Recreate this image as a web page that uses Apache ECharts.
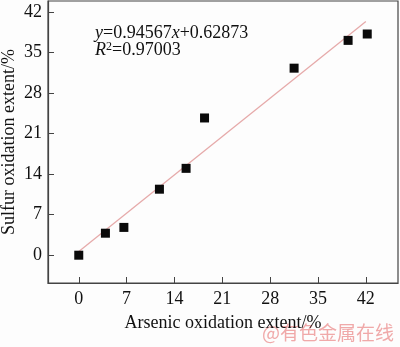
<!DOCTYPE html>
<html><head><meta charset="utf-8">
<script src="https://cdn.jsdelivr.net/npm/echarts@6/dist/echarts.min.js"></script>
<style>html,body{margin:0;padding:0;background:#fdfdfd}#c{width:400px;height:347px}</style>
</head><body><div id="c"></div>
<script>
var arsenic = [0, 3.9, 6.6, 11.8, 15.7, 18.4, 31.5, 39.4, 42.2];
var sulfur  = [0, 3.8, 4.8, 11.4, 15.0, 23.7, 32.3, 37.1, 38.2];
var slope = 0.94567, intercept = 0.62873;
var fitX = [0, 42];
var ticks = [0, 7, 14, 21, 28, 35, 42];
var xName = 'Arsenic oxidation extent/%';
var yName = 'Sulfur oxidation extent/%';
var watermark = '@有色金属在线';

var pts = arsenic.map(function(x, i){ return [x, sulfur[i]]; });
var fit = fitX.map(function(x){ return [x, slope * x + intercept]; });
var font = 'Liberation Serif';
var axisCol = '#444';

var chart = echarts.init(document.getElementById('c'));
chart.setOption({
  backgroundColor: '#fdfdfd',
  animation: false,
  grid: { left: 48, right: 2, top: 1, bottom: 64, containLabel: false, outerBoundsMode: 'none',
          show: true, borderColor: axisCol, borderWidth: 1.2, backgroundColor: 'transparent' },
  xAxis: {
    type: 'value', min: -4.5, max: 46.7,
    axisLine: { show: true, onZero: false, lineStyle: { color: axisCol, width: 1.2 } },
    axisTick: { show: true, inside: true, length: 6, customValues: ticks, lineStyle: { color: axisCol } },
    axisLabel: { customValues: ticks, color: '#111', fontFamily: font, fontSize: 18, margin: 7 },
    splitLine: { show: false },
    name: xName, nameLocation: 'middle', nameGap: 31, nameMoveOverlap: false,
    nameTextStyle: { color: '#111', fontFamily: font, fontSize: 18 }
  },
  yAxis: {
    type: 'value', min: -4.8, max: 43.9,
    axisLine: { show: true, onZero: false, lineStyle: { color: axisCol, width: 1.2 } },
    axisTick: { show: true, inside: true, length: 6, customValues: ticks, lineStyle: { color: axisCol } },
    axisLabel: { customValues: ticks, color: '#111', fontFamily: font, fontSize: 18, margin: 6 },
    splitLine: { show: false },
    name: yName, nameLocation: 'middle', nameGap: 30, nameRotate: 90, nameMoveOverlap: false,
    nameTextStyle: { color: '#111', fontFamily: font, fontSize: 18 }
  },
  series: [
    { type: 'line', data: fit, symbol: 'none', lineStyle: { color: '#e6aaaa', width: 1.3 }, z: 1 },
    { type: 'scatter', data: pts, symbol: 'rect', symbolSize: 9, itemStyle: { color: '#0a0a0a', opacity: 1 }, z: 2 }
  ],
  graphic: [
    { type: 'text', left: 95, top: 24, style: {
      text: '{i|y}=0.94567{i|x}+0.62873', fill: '#111', font: '18px "Liberation Serif"',
      rich: { i: { fontStyle: 'italic', fontFamily: font, fontSize: 18, fill: '#111' } } } },
    { type: 'text', left: 95, top: 41, style: {
      text: '{i|R}{s|2}=0.97003', fill: '#111', font: '18px "Liberation Serif"',
      rich: { i: { fontStyle: 'italic', fontFamily: font, fontSize: 18, fill: '#111' },
              s: { fontFamily: font, fontSize: 12, verticalAlign: 'top', padding: [0,0,6,0], fill: '#111' } } } },
    { type: 'text', left: 262, top: 323, style: { text: watermark, fill: '#f0a9a9', font: '19px "Noto Sans CJK SC"' } }
  ]
});
</script></body></html>
